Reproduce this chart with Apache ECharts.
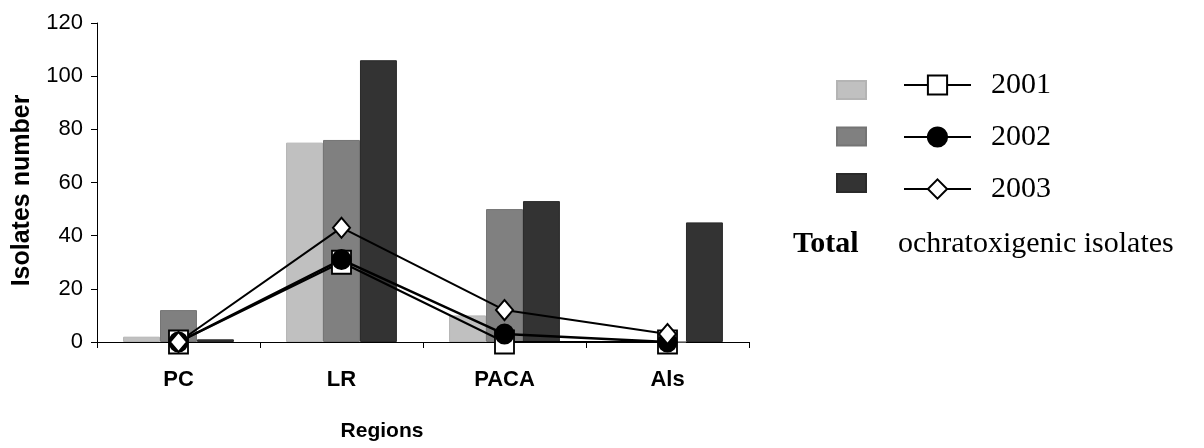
<!DOCTYPE html>
<html>
<head>
<meta charset="utf-8">
<script src="https://cdn.jsdelivr.net/npm/echarts@6/dist/echarts.min.js"></script>
<style>
  html, body { margin: 0; padding: 0; background: #fff; }
  #chart { width: 1204px; height: 448px; }
</style>
</head>
<body>
<div id="chart"></div>
<script>
// Regions sampled
const regions = ['PC', 'LR', 'PACA', 'Als'];
const years = ['2001', '2002', '2003'];

// Total isolates per region and year (bars)
const total2001 = [2, 75, 10, 0];
const total2002 = [12, 76, 50, 0];
const total2003 = [1, 106, 53, 45];

// Ochratoxigenic isolates per region and year (lines)
const ochra2001 = [0, 30, 0, 0];
const ochra2002 = [0, 31, 3, 0];
const ochra2003 = [0, 43, 12, 3];

const yTicks = { min: 0, max: 120, interval: 20 };

const sans = "'Liberation Sans', Arial, sans-serif";
const serif = "'Liberation Serif', 'Times New Roman', serif";

const barColors = ['#c0c0c0', '#808080', '#333333'];
const barEdges = ['#b4b4b4', '#747474', '#2a2a2a'];
const barData = [total2001, total2002, total2003];
const lineData = [ochra2001, ochra2002, ochra2003];
const lineSymbols = ['rect', 'circle', 'diamond'];
const lineSymbolSizes = [[19, 23], [18, 19], [17, 20]];
const lineFills = ['#ffffff', '#000000', '#ffffff'];
const lineWidths = [2, 2.5, 2];

const barSeries = years.map((y, i) => ({
  name: 'Total ' + y,
  type: 'bar',
  data: barData[i],
  barGap: 0,
  barCategoryGap: '32%',
  itemStyle: { color: barColors[i], borderColor: barEdges[i], borderWidth: 1 },
  emphasis: { disabled: true },
  z: 1
}));

const lineSeries = years.map((y, i) => ({
  name: y,
  type: 'line',
  data: lineData[i],
  symbol: lineSymbols[i],
  symbolSize: lineSymbolSizes[i],
  showAllSymbol: true,
  lineStyle: { color: '#000', width: lineWidths[i] },
  itemStyle: { color: lineFills[i], borderColor: '#000', borderWidth: 2 },
  emphasis: { disabled: true },
  z: 3
}));

const chart = echarts.init(document.getElementById('chart'), null, { renderer: 'canvas' });
chart.setOption({
  animation: false,
  backgroundColor: '#fff',
  grid: { left: 97, right: 455, top: 23, bottom: 106, containLabel: false },
  title: [
    {
      text: 'Total', left: 793, top: 229, padding: 0,
      textStyle: { fontFamily: serif, fontWeight: 'bold', fontSize: 30, color: '#000' }
    },
    {
      text: 'ochratoxigenic isolates', left: 898, top: 229, padding: 0,
      textStyle: { fontFamily: serif, fontWeight: 'normal', fontSize: 30, color: '#000' }
    }
  ],
  legend: [
    {
      data: barSeries.map(s => s.name),
      orient: 'vertical', left: 836, top: 80, padding: 0,
      icon: 'rect', itemWidth: 29, itemHeight: 18, itemGap: 26.5,
      selectedMode: false,
      formatter: () => '',
      textStyle: { fontSize: 10, lineHeight: 18 }
    },
    {
      data: years,
      orient: 'vertical', left: 903, top: 70, padding: 0,
      itemWidth: 67, itemHeight: 24, itemGap: 22,
      selectedMode: false,
      textStyle: { fontFamily: serif, fontSize: 30, lineHeight: 24, color: '#000', padding: [0, 0, 0, 15] }
    }
  ],
  xAxis: {
    type: 'category',
    data: regions,
    boundaryGap: true,
    name: 'Regions',
    nameLocation: 'middle',
    nameGap: 79,
    nameTextStyle: { fontFamily: sans, fontWeight: 'bold', fontSize: 21, color: '#000', padding: [0, 82, 0, 0] },
    axisLine: { lineStyle: { color: '#000', width: 1 } },
    axisTick: { show: true, length: 6, interval: 0, lineStyle: { color: '#000' } },
    axisLabel: { fontFamily: sans, fontWeight: 'bold', fontSize: 22, color: '#000', margin: 27, interval: 0 },
    splitLine: { show: false }
  },
  yAxis: {
    type: 'value',
    min: yTicks.min, max: yTicks.max, interval: yTicks.interval,
    name: 'Isolates number',
    nameLocation: 'middle',
    nameRotate: 90,
    nameGap: 62,
    nameTextStyle: { fontFamily: sans, fontWeight: 'bold', fontSize: 25, color: '#000', padding: [0, 0, 0, -16] },
    axisLine: { show: true, lineStyle: { color: '#000', width: 1 } },
    axisTick: { show: true, length: 6, lineStyle: { color: '#000' } },
    axisLabel: { fontFamily: sans, fontSize: 22, color: '#000', margin: 14 },
    splitLine: { show: false }
  },
  series: [...barSeries, ...lineSeries]
});
</script>
</body>
</html>
